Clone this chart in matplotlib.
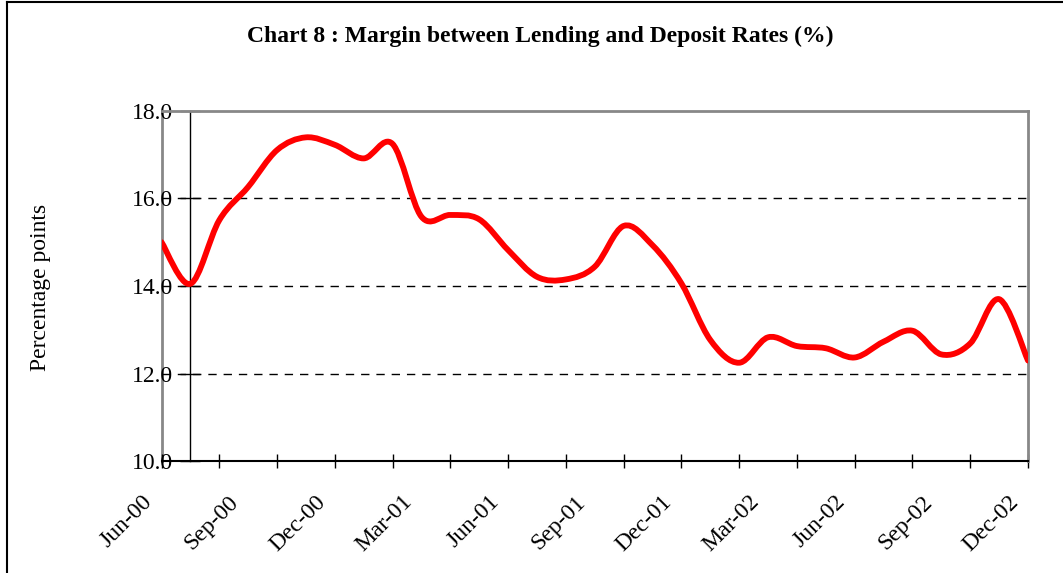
import matplotlib
matplotlib.use("Agg")
import matplotlib.pyplot as plt
from matplotlib.path import Path
from matplotlib.patches import PathPatch
from matplotlib.lines import Line2D
import numpy as np

# ---- data ----
months = list(range(31))  # Jun-00 .. Dec-02, monthly
margin = [15.0, 14.05, 15.5, 16.26, 17.1, 17.39, 17.22, 16.91, 17.24, 15.58,
          15.62, 15.52, 14.82, 14.21, 14.15, 14.44, 15.37, 14.93, 14.06, 12.77,
          12.25, 12.83, 12.63, 12.58, 12.37, 12.73, 12.98, 12.44, 12.69, 13.70,
          12.30]
tick_label_pos = [0, 3, 6, 9, 12, 15, 18, 21, 24, 27, 30]
tick_labels = ["Jun-00", "Sep-00", "Dec-00", "Mar-01", "Jun-01", "Sep-01",
               "Dec-01", "Mar-02", "Jun-02", "Sep-02", "Dec-02"]
y_ticks = [10.0, 12.0, 14.0, 16.0, 18.0]
title = "Chart 8 : Margin between Lending and Deposit Rates (%)"
ylabel = "Percentage points"

plt.rcParams['font.family'] = ['Liberation Serif', 'DejaVu Serif']

W, H = 1063, 573
fig = plt.figure(figsize=(W / 100, H / 100), dpi=100)
left, right, top, bottom = 161.5, 1028, 110.6, 461.4
ax = fig.add_axes([left / W, 1 - bottom / H, (right - left) / W, (bottom - top) / H])
ax.set_xlim(0, 30)
ax.set_ylim(10, 18)

# smoothed line (Catmull-Rom -> cubic Bezier), built in data coordinates
x = np.array(months, dtype=float)
y = np.array(margin, dtype=float)
verts = [(x[0], y[0])]
codes = [Path.MOVETO]
n = len(x)
for i in range(n - 1):
    p0 = (x[max(i - 1, 0)], y[max(i - 1, 0)])
    p1 = (x[i], y[i])
    p2 = (x[i + 1], y[i + 1])
    p3 = (x[min(i + 2, n - 1)], y[min(i + 2, n - 1)])
    c1 = (p1[0] + (p2[0] - p0[0]) / 6, p1[1] + (p2[1] - p0[1]) / 6)
    c2 = (p2[0] - (p3[0] - p1[0]) / 6, p2[1] - (p3[1] - p1[1]) / 6)
    verts += [c1, c2, p2]
    codes += [Path.CURVE4] * 3
patch = PathPatch(Path(verts, codes), facecolor='none', edgecolor='#ff0000',
                  linewidth=4.2, capstyle='round', joinstyle='round', zorder=5)
patch.set_clip_on(True)
ax.add_patch(patch)

# gridlines
for yv in y_ticks[1:-1]:
    ax.axhline(yv, color='black', linestyle=(0, (6, 5)), linewidth=1.0, zorder=2)

# frame: gray left/top/right, black bottom; black y-axis crossing at month 1
ax.spines['left'].set_position(('data', 1))
ax.spines['left'].set_color('black')
ax.spines['left'].set_linewidth(1.0)
ax.spines['top'].set_color('#888888')
ax.spines['top'].set_linewidth(2.0)
ax.spines['right'].set_color('#888888')
ax.spines['right'].set_linewidth(2.0)
ax.spines['bottom'].set_color('black')
ax.spines['bottom'].set_linewidth(1.5)
ax.add_line(Line2D([0, 0], [0, 1], transform=ax.transAxes, color='#888888',
                   linewidth=2.0, clip_on=False, zorder=1))

ax.set_yticks(y_ticks)
ax.set_yticklabels([f"{v:.1f}" for v in y_ticks])
ax.tick_params(axis='y', direction='inout', length=14.4, width=1, labelsize=17,
               pad=5)

ax.set_xticks(list(range(0, 31, 2)))
ax.set_xticklabels([])
ax.tick_params(axis='x', direction='inout', length=10, width=1)
for pos, lab in zip(tick_label_pos, tick_labels):
    ax.annotate(lab, xy=(pos, 10), xycoords='data', xytext=(-5, -30),
                textcoords='offset pixels', rotation=45, ha='right', va='top',
                fontsize=17, annotation_clip=False)

fig.text(41 / W, 1 - 287 / H, ylabel, rotation=90, ha='center', va='center',
         fontsize=17)
fig.text(540 / W, 1 - 36 / H, title, ha='center', va='center', fontsize=17,
         fontweight='bold')

# figure border (top and left)
fig.add_artist(Line2D([6.5 / W, 1], [1 - 1.5 / H, 1 - 1.5 / H], transform=fig.transFigure,
                      color='black', linewidth=1.5))
fig.add_artist(Line2D([6.5 / W, 6.5 / W], [0, 1 - 1.5 / H], transform=fig.transFigure,
                      color='black', linewidth=1.5))

fig.savefig("out.png", dpi=100)
